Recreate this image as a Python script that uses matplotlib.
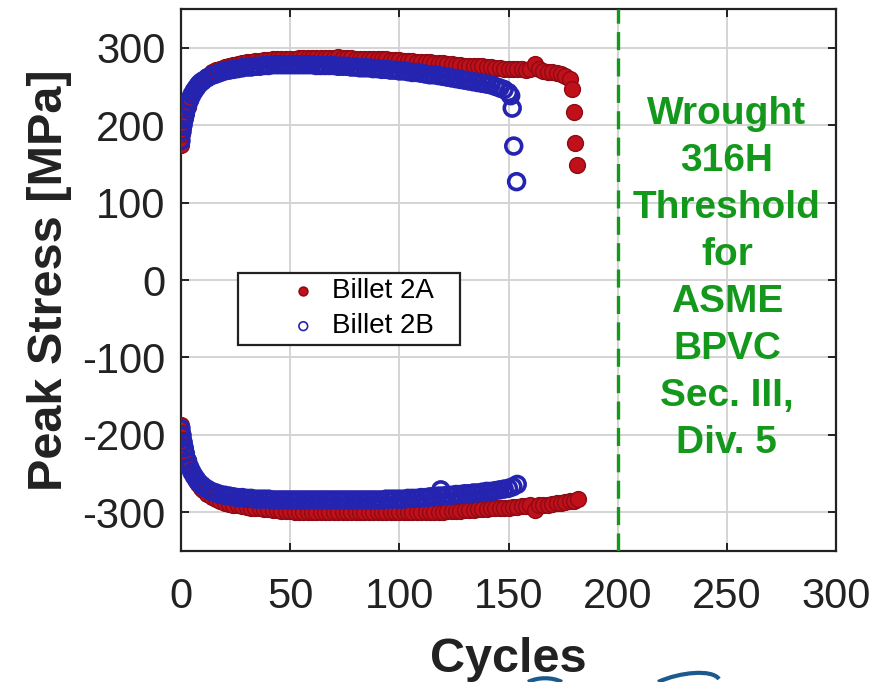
import matplotlib
matplotlib.use("Agg")
import matplotlib.pyplot as plt
from matplotlib.path import Path
from matplotlib.patches import PathPatch

plt.rcParams['font.family'] = ['Liberation Sans', 'DejaVu Sans']
plt.rcParams['axes.unicode_minus'] = False
plt.rcParams['lines.scale_dashes'] = False

# ---------------- data ----------------
# Billet 2A, tensile peak
a_t_cyc = [0, 0.5, 1, 1.5, 2, 3, 4, 5, 6, 7, 8, 9, 10, 12, 14, 16, 18, 20, 22, 24, 26, 28,
           30, 32, 34, 36, 38, 40, 42, 44, 46, 48, 50, 52, 54, 56, 58, 60, 62, 64, 66, 68,
           70, 72, 74, 76, 78, 80, 82, 84, 86, 88, 90, 92, 94, 96, 98, 100, 102, 104, 106,
           108, 110, 112, 114, 116, 118, 120, 122, 124, 126, 128, 130, 132, 134, 136, 138,
           140, 142, 144, 146, 148, 150, 152, 154, 156, 158, 160, 162, 164, 166, 168, 170,
           172, 174, 176, 178, 179.2, 179.8, 180.6, 181.5]
a_t_val = [175, 188, 198, 206, 213, 224, 233, 240, 246, 250, 254, 257, 260, 264, 268, 271, 273,
           275, 277, 278, 279, 280, 281, 282, 283, 283, 284, 284, 285, 285, 286, 286, 286, 286,
           287, 287, 287, 287, 287, 287, 287, 287, 287, 288, 287, 287, 287, 286, 286, 286, 286,
           285, 285, 285, 285, 284, 284, 284, 283, 283, 283, 282, 282, 281, 281, 280, 280, 280,
           279, 279, 278, 278, 277, 277, 276, 276, 276, 275, 275, 274, 274, 273, 273, 272, 272,
           272, 271, 272, 279, 272, 270, 269, 268, 267, 266, 264, 259, 247, 217, 177, 148]
# Billet 2A, compressive peak
a_c_cyc = [0, 0.5, 1, 1.5, 2, 3, 4, 5, 6, 7, 8, 9, 10, 12, 14, 16, 18, 20, 22, 24, 26, 28,
           30, 32, 34, 36, 38, 40, 42, 44, 46, 48, 50, 52, 54, 56, 58, 60, 62, 64, 66, 68,
           70, 72, 74, 76, 78, 80, 82, 84, 86, 88, 90, 92, 94, 96, 98, 100, 102, 104, 106,
           108, 110, 112, 114, 116, 118, 120, 122, 124, 126, 128, 130, 132, 134, 136, 138,
           140, 142, 144, 146, 148, 150, 152, 154, 156, 158, 160, 162, 164, 166, 168, 170,
           172, 174, 176, 178, 180, 182]
a_c_val = [-187, -197, -206, -214, -221, -232, -241, -249, -255, -260, -264, -268, -271, -276,
           -280, -283, -286, -288, -289, -290, -291, -292, -293, -294, -295, -295, -296, -296,
           -297, -297, -298, -298, -298, -299, -299, -299, -299, -299, -300, -300, -300, -300,
           -300, -300, -300, -300, -300, -300, -300, -300, -300, -300, -300, -300, -300, -300,
           -300, -300, -300, -300, -300, -300, -300, -300, -299, -299, -299, -299, -298, -298,
           -298, -298, -297, -297, -297, -296, -296, -296, -295, -295, -295, -294, -294, -293,
           -293, -292, -292, -291, -297, -291, -290, -290, -289, -288, -288, -287, -286, -285,
           -283]
# Billet 2B, tensile peak
b_t_cyc = [0, 0.5, 1, 1.5, 2, 3, 4, 5, 6, 7, 8, 9, 10, 12, 14, 16, 18, 20, 22, 24, 26, 28,
           30, 32, 34, 36, 38, 40, 42, 44, 46, 48, 50, 52, 54, 56, 58, 60, 62, 64, 66, 68,
           70, 72, 74, 76, 78, 80, 82, 84, 86, 88, 90, 92, 94, 96, 98, 100, 102, 104, 106,
           108, 110, 112, 114, 116, 118, 120, 122, 124, 126, 128, 130, 132, 134, 136, 138,
           140, 142, 144, 146, 148, 150, 151, 151.7, 152.4, 153.7]
b_t_val = [180, 192, 201, 208, 214, 225, 233, 239, 244, 248, 252, 255, 257, 261, 264, 266, 268,
           270, 271, 272, 273, 274, 275, 275, 276, 276, 277, 277, 278, 278, 278, 278, 278, 278,
           278, 278, 278, 278, 277, 277, 277, 277, 277, 276, 276, 276, 275, 275, 274, 274, 274,
           273, 273, 272, 272, 271, 271, 270, 270, 269, 268, 268, 267, 266, 265, 265, 264, 263,
           262, 261, 260, 259, 258, 257, 256, 255, 254, 253, 252, 250, 248, 246, 242, 238, 222,
           173, 127]
# Billet 2B, compressive peak
b_c_cyc = [0, 0.5, 1, 1.5, 2, 3, 4, 5, 6, 7, 8, 9, 10, 12, 14, 16, 18, 20, 22, 24, 26, 28,
           30, 32, 34, 36, 38, 40, 42, 44, 46, 48, 50, 52, 54, 56, 58, 60, 62, 64, 66, 68,
           70, 72, 74, 76, 78, 80, 82, 84, 86, 88, 90, 92, 94, 96, 98, 100, 102, 104, 106,
           108, 110, 112, 114, 116, 118, 119, 120, 122, 124, 126, 128, 130, 132, 134, 136, 138,
           140, 142, 144, 146, 148, 150, 152, 154]
b_c_val = [-192, -201, -210, -217, -224, -234, -242, -248, -253, -257, -261, -264, -266,
           -270, -273, -275, -277, -278, -279, -280, -281, -281, -282, -282, -283, -283, -283,
           -283, -284, -284, -284, -284, -284, -284, -284, -284, -284, -284, -284, -284, -284,
           -284, -284, -284, -284, -284, -284, -284, -284, -284, -284, -284, -284, -284,
           -283, -283, -283, -283, -283, -282, -282, -282, -281, -281, -280, -280, -279,
           -271,
           -279, -278, -278, -277, -277, -276, -276, -275, -275, -274, -273, -273, -272, -271,
           -270, -269, -267, -264]

series_labels = ["Billet 2A", "Billet 2B"]
x_ticks = [0, 50, 100, 150, 200, 250, 300]
y_ticks = [-300, -200, -100, 0, 100, 200, 300]
threshold_cycles = 200
threshold_text = "Wrought\n316H\nThreshold\nfor\nASME\nBPVC\nSec. III,\nDiv. 5"

# ---------------- figure ----------------
fig = plt.figure(figsize=(8.81, 6.82), dpi=100)
ax = fig.add_axes([181 / 881, 1 - 551 / 682, 655 / 881, 542 / 682])

red_face, red_edge = '#C0101A', '#8E0A14'
blue_edge = '#2424B0'
ms = 130

ax.scatter(a_t_cyc, a_t_val, s=ms, c=red_face, edgecolors=red_edge, linewidths=1.0,
           label=series_labels[0], zorder=3)
ax.scatter(a_c_cyc, a_c_val, s=ms, c=red_face, edgecolors=red_edge, linewidths=1.0, zorder=3)
ax.scatter(b_t_cyc, b_t_val, s=ms, facecolors='none', edgecolors=blue_edge, linewidths=2.6,
           label=series_labels[1], zorder=4)
ax.scatter(b_c_cyc, b_c_val, s=ms, facecolors='none', edgecolors=blue_edge, linewidths=2.6,
           zorder=4)

green = '#14981C'
ax.axvline(threshold_cycles, color=green, lw=2.4, dashes=(13, 6), zorder=5)
ax.text(250, 2, threshold_text, color=green, fontsize=28, fontweight='bold',
        ha='center', va='center', linespacing=1.39, zorder=6)

ax.set_xlim(0, 300)
ax.set_ylim(-350, 350)
ax.set_xticks(x_ticks)
ax.set_yticks(y_ticks)
ax.grid(True, color='#d4d4d4', lw=1.4, zorder=0)
ax.set_axisbelow(True)
for sp in ax.spines.values():
    sp.set_linewidth(1.6)
    sp.set_color('#222222')
ax.tick_params(direction='in', length=6, width=1.4, top=True, right=True,
               labelsize=30, colors='#222222')
ax.tick_params(axis='x', pad=19)
ax.tick_params(axis='y', pad=11)

ax.set_xlabel("Cycles", fontsize=35, fontweight='bold', color='#222222')
ax.set_ylabel("Peak Stress [MPa]", fontsize=35, fontweight='bold', color='#222222')
ax.xaxis.set_label_coords(0.5, -0.158)
ax.yaxis.set_label_coords(-0.166, 0.5)

x0 = (238 - 181) / 655
y0 = (551 - 345) / 542
w = (460 - 238) / 655
h = (345 - 263) / 542
leg = ax.legend(loc='lower left', bbox_to_anchor=(x0, y0, w, h), mode='expand',
                fontsize=20, markerscale=0.55, handlelength=4.3, handletextpad=-1.1,
                borderpad=0.2, labelspacing=0.33, borderaxespad=0, fancybox=False,
                framealpha=1, edgecolor='#222222')
leg.get_frame().set_linewidth(1.6)
leg.set_zorder(7)
for hnd in leg.legend_handles:
    hnd.set_linewidth(1.2)

# partial logo swoosh cut at the bottom edge
H = 682.0
verts = [(528 / 881, 0.0), (538 / 881, 5 / H), (552 / 881, 5 / H), (562 / 881, 0.0)]
fig.patches.append(PathPatch(Path(verts, [Path.MOVETO, Path.CURVE4, Path.CURVE4, Path.CURVE4]),
                             transform=fig.transFigure, fill=False, ec='#1B5A8E', lw=3))
verts2 = [(658 / 881, 0.0), (680 / 881, 10 / H), (712 / 881, 13 / H), (719 / 881, 3 / H)]
fig.patches.append(PathPatch(Path(verts2, [Path.MOVETO, Path.CURVE4, Path.CURVE4, Path.CURVE4]),
                             transform=fig.transFigure, fill=False, ec='#1B5A8E', lw=3))

fig.savefig("out.png", dpi=100)
